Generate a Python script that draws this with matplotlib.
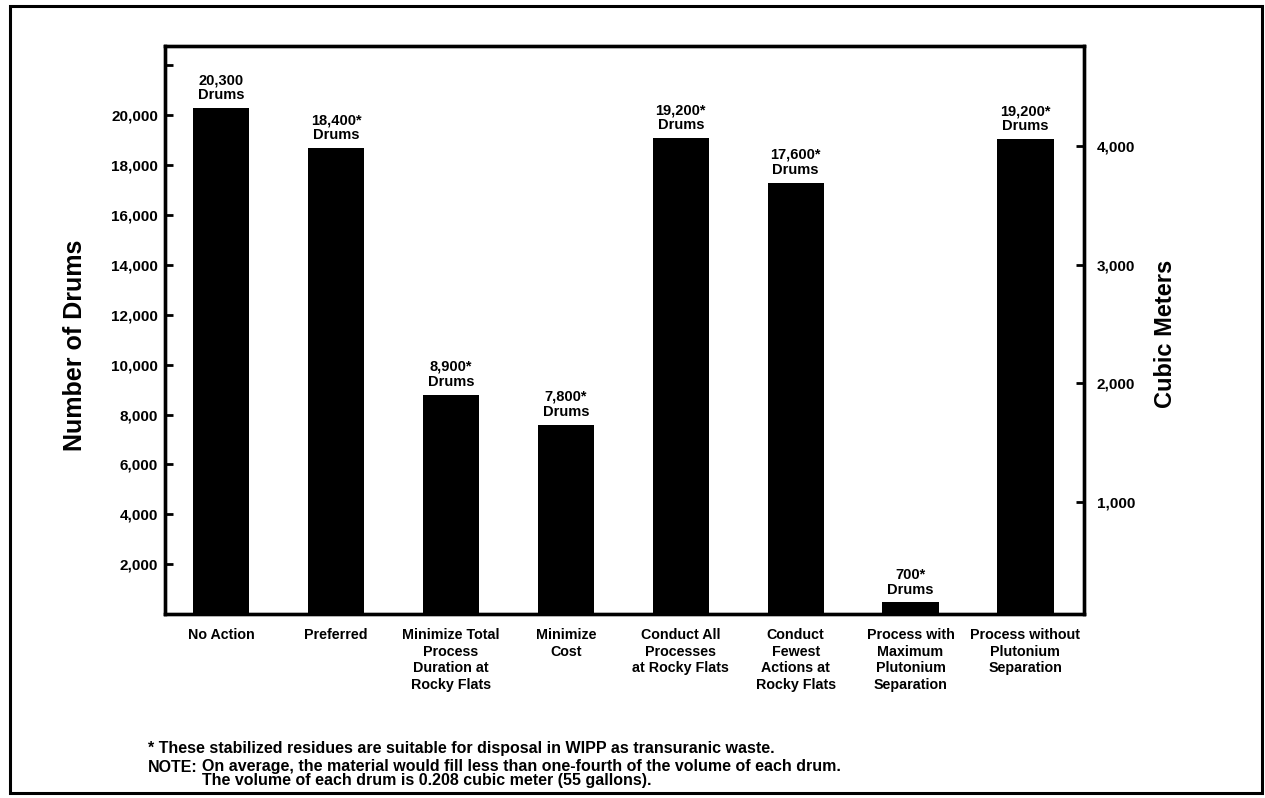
import numpy as np
import matplotlib
matplotlib.use("Agg")
import matplotlib.pyplot as plt
from matplotlib.patches import Rectangle

plt.rcParams['font.family'] = ['Liberation Sans', 'DejaVu Sans']
plt.rcParams['font.weight'] = 'bold'

"""Data read off the chart"""
categories = ["No Action", "Preferred", "Minimize Total\nProcess\nDuration at\nRocky Flats",
              "Minimize\nCost", "Conduct All\nProcesses\nat Rocky Flats",
              "Conduct\nFewest\nActions at\nRocky Flats",
              "Process with\nMaximum\nPlutonium\nSeparation",
              "Process without\nPlutonium\nSeparation"]
drums = [20300, 18700, 8800, 7600, 19100, 17300, 470, 19050]   # bar heights as drawn
bar_labels = ["20,300\nDrums", "18,400*\nDrums", "8,900*\nDrums", "7,800*\nDrums",
              "19,200*\nDrums", "17,600*\nDrums", "700*\nDrums", "19,200*\nDrums"]
left_ticks = [2000, 4000, 6000, 8000, 10000, 12000, 14000, 16000, 18000, 20000, 22000]
left_ticklabels = ["2,000", "4,000", "6,000", "8,000", "10,000", "12,000", "14,000",
                   "16,000", "18,000", "20,000", ""]
right_ticks = [1000, 2000, 3000, 4000]
right_ticklabels = ["1,000", "2,000", "3,000", "4,000"]

W, H = 1265, 798
fig = plt.figure(figsize=(W/100, H/100), dpi=100)

# axes box in pixels: left 165, right 1084, top 46, bottom 614
ax = fig.add_axes([165/W, 1-614/H, (1084-165)/W, (614-46)/H])
x = np.arange(len(categories))
ax.bar(x, drums, width=0.49, color='black')
ax.set_xlim(-0.49, 7.51)
ax.set_ylim(0, 22780)

for xi, h, lab in zip(x, drums, bar_labels):
    ax.annotate(lab, (xi, h), xytext=(0, 4), textcoords='offset points',
                ha='center', va='bottom', fontsize=10.5, fontweight='bold', linespacing=1.1)

ax.set_xticks(x)
ax.set_xticklabels(categories, fontsize=10.3, fontweight='bold', linespacing=1.25, va='top')
ax.tick_params(axis='x', length=0, pad=10)

ax.set_yticks(left_ticks)
ax.set_yticklabels(left_ticklabels, fontsize=11, fontweight='bold')
ax.tick_params(axis='y', direction='in', length=6, width=2, pad=5)

for s in ax.spines.values():
    s.set_linewidth(2.4)

ax2 = ax.twinx()
ax2.set_ylim(58, 4843)
ax2.set_yticks(right_ticks)
ax2.set_yticklabels(right_ticklabels, fontsize=11, fontweight='bold')
ax2.tick_params(axis='y', direction='in', length=6, width=2, pad=9)
for s in ax2.spines.values():
    s.set_linewidth(2.4)

fig.text(75/W, 1-345/H, "Number of Drums", rotation=90, ha='center', va='center',
         fontsize=18, fontweight='bold')
fig.text(1166/W, 1-334/H, "Cubic Meters", rotation=90, ha='center', va='center',
         fontsize=17, fontweight='bold')

"""Footnotes"""
fig.text(148/W, 1-748/H, "* These stabilized residues are suitable for disposal in WIPP as transuranic waste.",
         ha='left', va='center', fontsize=11.5, fontweight='bold')
fig.text(148/W, 1-767/H, "NOTE:", ha='left', va='center', fontsize=11.5, fontweight='bold')
fig.text(202/W, 1-767/H, "On average, the material would fill less than one-fourth of the volume of each drum.",
         ha='left', va='center', fontsize=11.5, fontweight='bold')
fig.text(202/W, 1-781/H, "The volume of each drum is 0.208 cubic meter (55 gallons).",
         ha='left', va='center', fontsize=11.5, fontweight='bold')

# outer frame
fig.patches.append(Rectangle((10/W, 1-793/H), (1262-10)/W, (793-6)/H,
                             transform=fig.transFigure, fill=False, lw=2.2, ec='black'))

fig.savefig("out.png", dpi=100)
